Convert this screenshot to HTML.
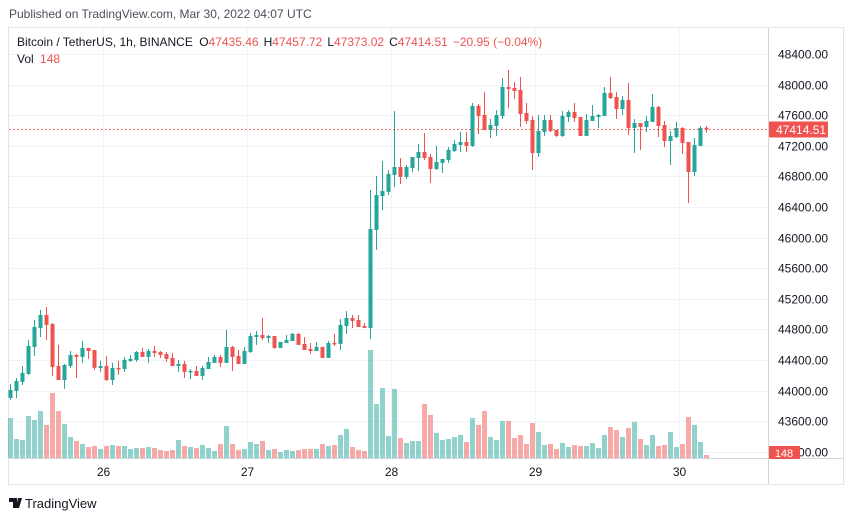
<!DOCTYPE html>
<html><head><meta charset="utf-8"><style>
body{margin:0;background:#fff;font-family:"Liberation Sans",sans-serif;}
svg{display:block}
text{font-family:"Liberation Sans",sans-serif;}
</style></head><body>
<svg id="chart" width="850" height="521" viewBox="0 0 850 521" xmlns="http://www.w3.org/2000/svg">
<rect x="0" y="0" width="850" height="521" fill="#fff"/>
<text x="9" y="18" font-size="12" fill="#4a4f5c">Published on TradingView.com, Mar 30, 2022 04:07 UTC</text>
<rect x="8.5" y="27.5" width="835" height="457" fill="none" stroke="#e0e3eb"/>
<g id="grid"></g>
<g id="vols"></g>
<g id="candles"></g>
<line id="lastline" x1="9" x2="768" stroke="#ef5350" stroke-dasharray="1.5,2.5"/>
<line x1="768.5" y1="28" x2="768.5" y2="484" stroke="#d1d4dc"/>
<line x1="9" y1="458.5" x2="843" y2="458.5" stroke="#d1d4dc"/>
<g id="axes"></g>
<text x="17" y="46" font-size="12" fill="#131722">Bitcoin / TetherUS, 1h, BINANCE <tspan dx="3">O</tspan><tspan fill="#ef5350">47435.46</tspan><tspan dx="5">H</tspan><tspan fill="#ef5350">47457.72</tspan><tspan dx="5">L</tspan><tspan fill="#ef5350">47373.02</tspan><tspan dx="5">C</tspan><tspan fill="#ef5350">47414.51</tspan><tspan dx="5" fill="#ef5350">−20.95 (−0.04%)</tspan></text>
<text x="17" y="63" font-size="12" fill="#131722">Vol <tspan dx="3" fill="#ef5350">148</tspan></text>
<g>
<path d="M9 498h8v10h-4v-6h-4z M18 498h4l-3 10h-3z" fill="#131722"/>
<text x="25" y="508" font-size="13" fill="#131722">TradingView</text>
</g>
</svg>
<script>
const opens=[43904,43996,44113,44218,44571,44819,44989,44871,44322,44139,44322,44466,44440,44558,44531,44296,44322,44139,44296,44283,44388,44401,44505,44440,44518,44505,44479,44427,44322,44348,44244,44257,44192,44283,44362,44440,44362,44571,44453,44348,44505,44701,44727,44688,44714,44558,44623,44649,44741,44610,44545,44518,44571,44427,44623,44610,44845,44950,44924,44845,44819,46100,46544,46597,46819,46923,46793,46910,47041,47119,47054,46897,46976,47015,47132,47211,47250,47198,47721,47603,47407,47459,47590,47969,47956,47930,47629,47538,47106,47381,47538,47407,47329,47577,47642,47577,47329,47525,47577,47590,47891,47838,47681,47799,47433,47498,47446,47512,47708,47472,47263,47315,47433,47250,46858,47198,47435.46];
const highs=[44087,44165,44322,44662,44924,45054,45093,44884,44597,44348,44518,44479,44649,44558,44531,44388,44453,44362,44388,44440,44466,44518,44558,44545,44584,44518,44505,44492,44401,44388,44283,44322,44322,44440,44466,44466,44793,44584,44531,44571,44754,44780,44950,44727,44714,44636,44727,44754,44754,44701,44623,44636,44571,44649,44741,44937,45041,44989,44989,44884,46623,46806,47002,46884,47655,47041,46949,47054,47224,47368,47093,47198,47028,47185,47276,47381,47381,47760,47747,47904,47551,47668,48087,48191,48034,48100,47760,47590,47603,47603,47603,47407,47655,47668,47760,47577,47616,47734,47616,47969,48100,47904,47851,48021,47551,47498,47590,47877,47721,47525,47394,47512,47446,47250,47302,47459,47457.72];
const lows=[43878,43904,44074,44205,44453,44701,44662,44192,44139,44022,44296,44165,44362,44414,44270,44244,44126,44074,44205,44244,44375,44375,44440,44362,44440,44427,44375,44322,44244,44165,44152,44192,44139,44283,44362,44309,44362,44257,44348,44348,44492,44597,44662,44623,44545,44558,44623,44649,44597,44531,44479,44518,44427,44427,44584,44531,44741,44819,44832,44819,44675,45839,46361,46557,46662,46701,46766,46858,46871,47015,46714,46884,46845,46976,47119,47119,47119,47185,47355,47407,47302,47329,47551,47694,47812,47446,47485,46884,47054,47329,47381,47315,47315,47512,47512,47329,47329,47525,47433,47590,47812,47551,47603,47341,47106,47146,47381,47512,47315,47185,46949,47302,47093,46453,46806,47198,47373.02];
const closes=[44009,44126,44231,44584,44832,44989,44858,44309,44139,44335,44466,44440,44558,44518,44296,44322,44139,44296,44283,44401,44414,44505,44440,44518,44492,44466,44414,44322,44348,44244,44257,44192,44296,44375,44440,44362,44571,44440,44348,44518,44714,44727,44688,44714,44558,44636,44662,44741,44597,44531,44518,44571,44427,44623,44610,44858,44950,44911,44832,44819,46113,46557,46610,46832,46923,46793,46923,47054,47119,47041,46897,46989,47028,47146,47224,47250,47198,47721,47590,47407,47472,47603,47969,47943,47917,47616,47525,47106,47394,47538,47394,47329,47590,47642,47564,47329,47538,47590,47603,47891,47825,47681,47799,47433,47498,47446,47525,47708,47459,47263,47329,47433,47237,46858,47211,47433,47414.51];
const volumes=[1973,937,888,2071,1874,2318,1628,3206,2318,1677,1036,838,690,543,592,444,592,641,592,592,444,493,493,543,493,395,345,395,888,592,543,493,641,493,345,690,1578,690,395,444,789,690,838,395,444,296,395,345,395,444,444,444,690,592,641,1134,1430,543,395,345,5327,2663,3452,1085,3403,986,740,838,838,2663,2121,1233,888,937,1036,1134,789,1973,1628,2318,1036,888,1825,1825,986,1134,690,1726,1282,641,690,444,740,543,641,592,592,740,493,1134,1529,1381,1036,1480,1776,937,641,1134,592,641,1282,543,690,2022,1628,789,148];
const priceTicks=[48400,48000,47600,47200,46800,46400,46000,45600,45200,44800,44400,44000,43600,43200];
const dayLabels=["26","27","28","29","30"];
const dayIndex=[16,40,64,88,112];

const NS="http://www.w3.org/2000/svg";
const yP=p=>54+(48400-p)/400*30.6;
const xI=i=>10+6*i;
const yV=v=>458-v/49.3;
function mk(tag,attrs,parent){const e=document.createElementNS(NS,tag);for(const k in attrs)e.setAttribute(k,attrs[k]);parent.appendChild(e);return e;}
const grid=document.getElementById('grid'),axes=document.getElementById('axes');
priceTicks.forEach(p=>{const y=Math.round(yP(p))+0.5;
 const g=mk('line',{x1:9,x2:768,y1:y,y2:y,stroke:'#f0f3fa'},grid);
 
 
 const t=mk('text',{x:778,y:y+4,'font-size':12,fill:'#131722'},axes);t.textContent=p.toFixed(2);
 
 
});
dayIndex.forEach((di,k)=>{const x=Math.round(xI(di))-2.5;
 const g=mk('line',{x1:x,x2:x,y1:28,y2:458,stroke:'#f0f3fa'},grid);
 
 
 const t=mk('text',{x:x,y:476,'font-size':12,fill:'#131722','text-anchor':'middle'},axes);t.textContent=dayLabels[k];
 
 
});
const vg=document.getElementById('vols'),cg=document.getElementById('candles');
opens.forEach((o,i)=>{
 const c=closes[i],up=c>=o,x=xI(i);
 const col=up?'#26a69a':'#ef5350';
 const vy=yV(volumes[i]);
 const vb=mk('rect',{x:x-2,y:vy,width:5,height:Math.max(458-vy,1),fill:up?'rgba(38,166,154,0.5)':'rgba(239,83,80,0.5)'},vg);
 
 
 const w=mk('line',{x1:x+0.5,x2:x+0.5,y1:yP(highs[i]),y2:yP(lows[i]),stroke:col,'stroke-width':1},cg);
 
 
 const top=yP(Math.max(o,c)),bot=yP(Math.min(o,c));
 const b=mk('rect',{x:x-1.5,y:top,width:4,height:Math.max(bot-top,1.5),fill:col},cg);
 
 
});
const last=closes[closes.length-1],ly=Math.round(yP(last))+0.5;
const ll=document.getElementById('lastline');ll.setAttribute('y1',ly);ll.setAttribute('y2',ly);
const lb=mk('rect',{x:769,y:ly-8,width:59,height:16,fill:'#ef5350',rx:1},axes);


const lt=mk('text',{x:776,y:ly+4.5,'font-size':12,fill:'#fff'},axes);lt.textContent=last.toFixed(2);


const vb2=mk('rect',{x:769,y:446,width:31,height:13,fill:'#ef5350'},axes);


const vt=mk('text',{x:784,y:457,'font-size':11,fill:'#fff','text-anchor':'middle'},axes);vt.textContent=String(volumes[volumes.length-1]);


</script>
</body></html>
